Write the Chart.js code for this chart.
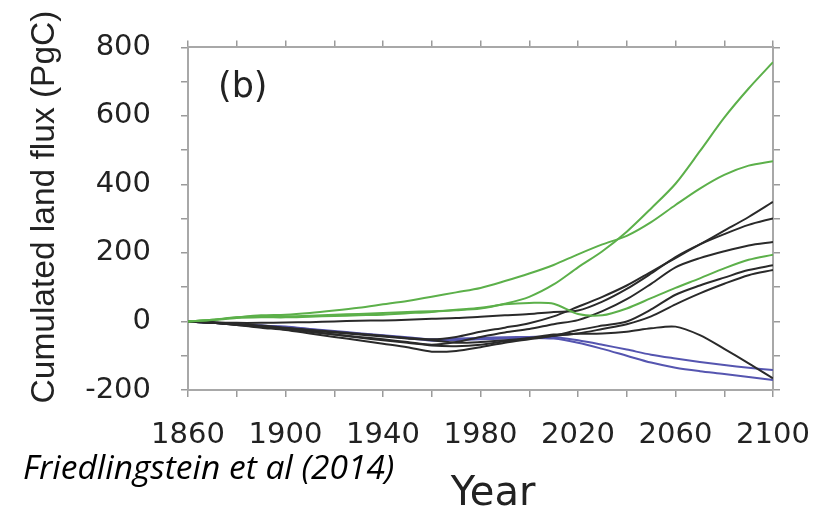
<!DOCTYPE html>
<html>
<head>
<meta charset="utf-8">
<script src="https://cdn.jsdelivr.net/npm/chart.js@4.4.1/dist/chart.umd.min.js"></script>
<style>
  html, body { margin: 0; padding: 0; background: #ffffff; }
  #wrap { position: relative; width: 831px; height: 509px; }
</style>
</head>
<body>
<div id="wrap"><canvas id="c" width="831" height="509"></canvas></div>
<script>
// ---- data ----
const years = [1860,1870,1880,1890,1900,1910,1920,1930,1940,1950,1960,1970,1980,1990,2000,2010,2020,2030,2040,2050,2060,2070,2080,2090,2100];

const green1 = [0,5,12,15,15,17,20,22,25,28,30,33,38,52,72,108,158,205,262,330,402,497,595,680,757];
const green2 = [0,5,12,18,20,25,32,40,50,60,72,85,98,118,140,165,196,225,250,290,340,388,428,455,468];
const green3 = [0,4,10,12,12,14,16,18,20,24,28,34,40,50,54,52,22,18,38,68,98,126,155,180,195];

const black1 = [0,-3,-8,-12,-18,-24,-30,-36,-42,-48,-52,-45,-30,-18,-5,15,43,72,105,145,185,225,265,305,349];
const black2 = [0,-2,-4,-4,-3,-2,0,2,3,5,8,10,14,18,22,28,32,58,95,140,188,225,255,282,301];
const black3 = [0,-4,-10,-16,-22,-30,-38,-45,-52,-60,-68,-60,-45,-32,-22,-8,4,30,65,110,158,185,205,222,232];
const black4 = [0,-4,-10,-18,-25,-35,-45,-55,-65,-75,-88,-86,-75,-62,-52,-42,-25,-12,0,35,78,105,128,150,164];
const black5 = [0,-4,-9,-15,-22,-30,-38,-47,-55,-62,-70,-72,-68,-58,-50,-42,-35,-22,-8,15,50,82,110,135,150];
const black6 = [0,-3,-8,-14,-20,-26,-32,-38,-44,-50,-55,-62,-60,-55,-48,-38,-36,-35,-30,-20,-15,-40,-80,-122,-166];

const blue1 = [0,-4,-8,-12,-15,-22,-28,-34,-40,-46,-52,-50,-48,-46,-45,-45,-55,-68,-82,-97,-108,-118,-127,-135,-142];
const blue2 = [0,-4,-8,-12,-16,-23,-30,-36,-42,-49,-56,-54,-52,-50,-48,-50,-62,-80,-100,-120,-135,-145,-153,-162,-171];

const xTickLabels = ['1860','1900','1940','1980','2020','2060','2100'];
const yTickLabels = ['-200','0','200','400','600','800'];

const xTitle = 'Year';
const yTitle = 'Cumulated land flux (PgC)';
const panelLabel = '(b)';
const citation = 'Friedlingstein et al (2014)';

// ---- styles ----
const GREEN = '#5cb04a';
const BLACK = '#2a2a2a';
const BLUE  = '#5555b0';
const FRAME = '#a8a8a8';
const TICKC = '#9a9a9a';
const TXT   = '#222222';

function mk(values, color) {
  return {
    data: values.map((v, i) => ({ x: years[i], y: v })),
    borderColor: color,
    borderWidth: 2,
    pointRadius: 0,
    tension: 0.3,
    fill: false
  };
}

const datasets = [
  mk(green1, GREEN), mk(green2, GREEN), mk(green3, GREEN),
  mk(black1, BLACK), mk(black2, BLACK), mk(black3, BLACK),
  mk(black4, BLACK), mk(black5, BLACK), mk(black6, BLACK),
  mk(blue1, BLUE), mk(blue2, BLUE)
];

const gridOpts = { drawOnChartArea: false, drawTicks: true, tickLength: 7, color: TICKC, lineWidth: 1.5 };
const borderOpts = { display: true, color: FRAME, width: 2 };

const extraText = {
  id: 'extraText',
  beforeDraw(chart) {
    const ctx = chart.ctx;
    ctx.save();
    ctx.fillStyle = '#ffffff';
    ctx.fillRect(0, 0, chart.width, chart.height);
    ctx.restore();
  },
  afterDraw(chart) {
    const ctx = chart.ctx;
    const area = chart.chartArea;
    ctx.save();
    ctx.fillStyle = TXT;
    ctx.textBaseline = 'alphabetic';
    // panel label
    ctx.textAlign = 'left';
    ctx.font = '35px "DejaVu Sans"';
    ctx.fillText(panelLabel, area.left + 30, area.top + 50);
    // x-axis title
    ctx.textAlign = 'center';
    ctx.font = '40px "DejaVu Sans"';
    ctx.fillText(xTitle, 493, 505);
    // y-axis title (rotated)
    ctx.save();
    ctx.translate(54, 207);
    ctx.rotate(-Math.PI / 2);
    ctx.textAlign = 'center';
    ctx.font = '33.5px "Liberation Sans"';
    ctx.fillText(yTitle, 0, 0);
    ctx.restore();
    // citation
    ctx.fillStyle = '#000000';
    ctx.textAlign = 'left';
    ctx.font = 'italic 33.5px "Open Sans"';
    ctx.fillText(citation, 23, 479);
    ctx.restore();
  }
};

new Chart(document.getElementById('c'), {
  type: 'line',
  data: { datasets },
  plugins: [extraText],
  options: {
    responsive: false,
    animation: false,
    devicePixelRatio: 1,
    layout: { padding: 0 },
    plugins: { legend: { display: false }, tooltip: { enabled: false } },
    scales: {
      x: {
        type: 'linear', position: 'bottom', min: 1860, max: 2100,
        afterFit(s) { s.height = 119; },
        ticks: {
          stepSize: 20, autoSkip: false, maxRotation: 0, padding: 21,
          color: TXT, font: { family: 'DejaVu Sans', size: 29 },
          callback: (v) => xTickLabels.includes(String(v)) ? String(v) : ''
        },
        grid: gridOpts, border: borderOpts,
        title: { display: false, text: xTitle }
      },
      x2: {
        type: 'linear', position: 'top', min: 1860, max: 2100,
        afterFit(s) { s.height = 47; },
        ticks: { stepSize: 20, display: false },
        grid: gridOpts, border: borderOpts
      },
      y: {
        type: 'linear', position: 'left', min: -200, max: 800,
        afterFit(s) { s.width = 188; },
        ticks: {
          stepSize: 100, autoSkip: false, padding: 30,
          color: TXT, font: { family: 'DejaVu Sans', size: 29 },
          callback: (v) => yTickLabels.includes(String(v)) ? String(v) : ''
        },
        grid: gridOpts, border: borderOpts,
        title: { display: false, text: yTitle }
      },
      y2: {
        type: 'linear', position: 'right', min: -200, max: 800,
        afterFit(s) { s.width = 58; },
        ticks: { stepSize: 100, display: false },
        grid: gridOpts, border: borderOpts
      }
    }
  }
});
</script>
</body>
</html>
